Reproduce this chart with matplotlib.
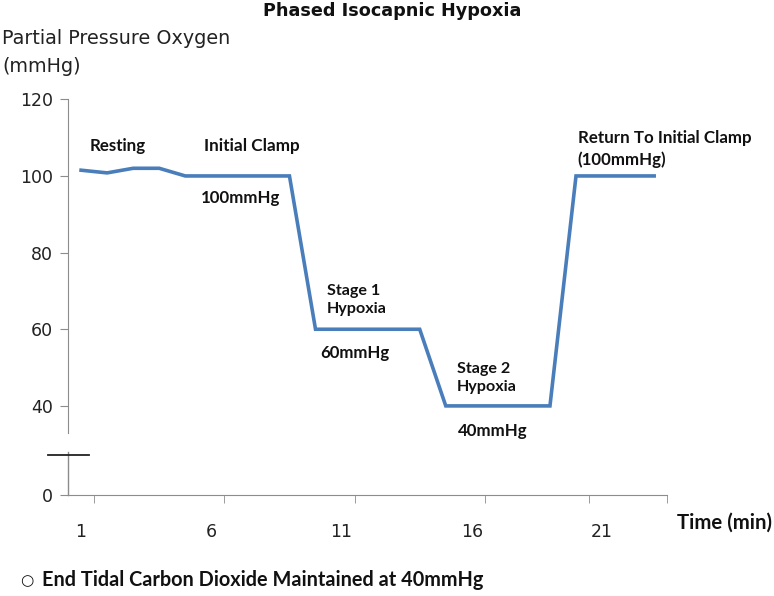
import numpy as np
import matplotlib
matplotlib.use("Agg")
import matplotlib.pyplot as plt

# ---- data ----
time_min = list(range(1, 24))
po2 = [101.5, 100.8, 102, 102, 100, 100, 100, 100, 100,
       60, 60, 60, 60, 60,
       40, 40, 40, 40, 40,
       100, 100, 100, 100]
xtick_labels = ["1", "6", "11", "16", "21"]
xtick_pos = [1, 6, 11, 16, 21]
ytick_vals = [0, 40, 60, 80, 100, 120]

plt.rcParams['font.family'] = ['DejaVu Sans']

# broken-axis style scale: compress 0-40
K = 0.581
def fwd(y):
    y = np.asarray(y, dtype=float)
    return np.where(y >= 40, y, 40 - (40 - y) * K)
def inv(y):
    y = np.asarray(y, dtype=float)
    return np.where(y >= 40, y, 40 - (40 - y) / K)

fig = plt.figure(figsize=(7.74, 5.96), dpi=100)
ax = fig.add_axes([0.0879, 0.1695, 0.862 - 0.0879, 0.8334 - 0.1695])
ax.set_yscale('function', functions=(fwd, inv))

blue = '#4a7ebb'
ax.plot(time_min, po2, color=blue, lw=2.6, solid_joinstyle='miter', clip_on=False)

ax.set_xlim(0.5, 23.5)
ax.set_ylim(0, 120)

gray = '#8c8c8c'
for s in ['top', 'right']:
    ax.spines[s].set_visible(False)
ax.spines['bottom'].set_color(gray)
ax.spines['left'].set_color(gray)
ax.spines['left'].set_bounds(28, 120)
# lower segment of broken y-axis
ax.plot([0, 0], [0, 19.5], transform=ax.get_yaxis_transform(), color=gray, lw=1, clip_on=False)
# break marker
ax.plot([-0.034, 0.035], [18, 18], transform=ax.get_yaxis_transform(), color='#222222', lw=1.3, clip_on=False)

ax.set_yticks(ytick_vals)
ax.set_yticklabels([str(v) for v in ytick_vals])
ax.tick_params(axis='y', length=6, color=gray, labelsize=12.5, pad=5, labelcolor='#222222')
ax.set_xticks(xtick_pos)
ax.set_xticklabels(xtick_labels)
ax.tick_params(axis='x', which='major', length=0, labelsize=12.5, pad=20, labelcolor='#222222')
ax.set_xticks([1.5, 6.5, 11.5, 16.5, 20.5, 23.5], minor=True)
ax.tick_params(axis='x', which='minor', length=6, color=gray, direction='out')

fig.canvas.draw()
renderer = fig.canvas.get_renderer()

def fit(t, width_px):
    """scale the font size so the text is width_px wide"""
    for _ in range(3):
        w = t.get_window_extent(renderer).width
        t.set_fontsize(t.get_fontsize() * width_px / w)
    return t

bold = dict(fontweight='bold', fontsize=10, color='#111111', family=['Lato', 'DejaVu Sans'])
fit(ax.text(2.40, 107.8, "Resting", ha='center', va='center', **bold), 56)
fit(ax.text(7.55, 107.8, "Initial Clamp", ha='center', va='center', **bold), 95)
fit(ax.text(7.13, 94.3, "100mmHg", ha='center', va='center', **bold), 79)
fit(ax.text(10.44, 67.6, "Stage 1\nHypoxia", ha='left', va='center', linespacing=1.35, **bold), 60)
fit(ax.text(11.51, 53.8, "60mmHg", ha='center', va='center', **bold), 69)
fit(ax.text(15.43, 47.3, "Stage 2\nHypoxia", ha='left', va='center', linespacing=1.35, **bold), 60)
fit(ax.text(16.80, 28.8, "40mmHg", ha='center', va='center', **bold), 70)
fit(ax.text(20.07, 107.0, "Return To Initial Clamp\n(100mmHg)", ha='left', va='center', linespacing=1.45, **bold), 173)

fit(fig.text(392 / 774, 1 - 11 / 596, "Phased Isocapnic Hypoxia", ha='center', va='center',
             fontweight='bold', fontsize=12.5, color='#111111'), 259)
fit(fig.text(2 / 774, 1 - 38 / 596, "Partial Pressure Oxygen", ha='left', va='center',
             fontsize=12.5, color='#222222'), 228)
fig.text(2 / 774, 1 - 66 / 596, "(mmHg)", ha='left', va='center',
         fontsize=fig.texts[-1].get_fontsize(), color='#222222')
fit(fig.text(677 / 774, 1 - 523 / 596, "Time (min)", ha='left', va='center',
             fontweight='bold', fontsize=12, color='#111111', family=['Lato', 'DejaVu Sans']), 95)
fig.text(20 / 774, 1 - 581 / 596, "○", ha='left', va='center',
         fontsize=11, color='#111111')
fit(fig.text(42 / 774, 1 - 580 / 596, "End Tidal Carbon Dioxide Maintained at 40mmHg", ha='left', va='center',
             fontweight='bold', fontsize=12, color='#111111', family=['Lato', 'DejaVu Sans']), 440)

fig.savefig("out.png", dpi=100)
